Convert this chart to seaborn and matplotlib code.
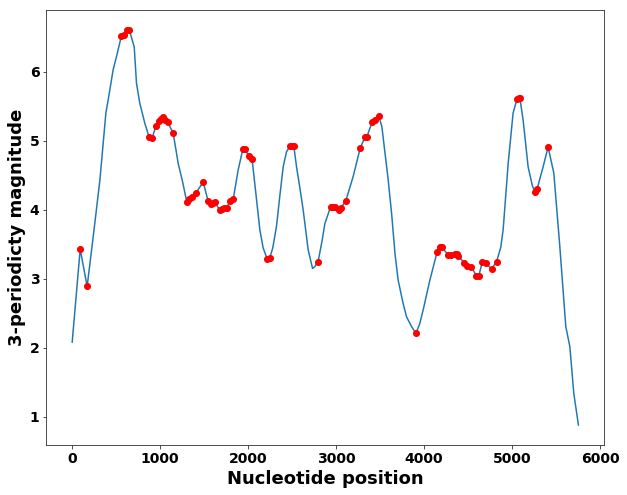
#!/usr/bin/env python3
"""
3-periodicity magnitude along the sequence, with flagged positions in red
"""
import numpy as np
import pandas as pd
import matplotlib
matplotlib.use("Agg")
import matplotlib.pyplot as plt
import seaborn as sns

# curve (nucleotide position, magnitude)
positions = [0, 91, 170, 239, 315, 383, 409, 466, 504, 560, 585, 625, 650,
             705, 731, 769, 826, 875, 909, 951, 985, 1010, 1034, 1060, 1084,
             1148, 1205, 1254, 1303, 1330, 1360, 1402, 1420, 1489, 1546,
             1576, 1600, 1622, 1675, 1700, 1730, 1755, 1792, 1830, 1887,
             1940, 1965, 2004, 2045, 2100, 2133, 2170, 2215, 2245, 2280,
             2322, 2360, 2398, 2436, 2474, 2500, 2519, 2550, 2590, 2625,
             2682, 2732, 2760, 2795, 2840, 2872, 2936, 2960, 2985, 3034,
             3050, 3110, 3193, 3273, 3330, 3350, 3409, 3440, 3485, 3520,
             3553, 3590, 3630, 3670, 3705, 3760, 3800, 3857, 3906, 3950,
             3989, 4065, 4148, 4175, 4198, 4273, 4300, 4350, 4375, 4390,
             4455, 4490, 4538, 4595, 4620, 4663, 4701, 4766, 4823, 4870,
             4898, 4955, 5011, 5057, 5075, 5088, 5125, 5182, 5230, 5258,
             5284, 5352, 5409, 5474, 5542, 5610, 5656, 5701, 5754]
magnitude = [2.08, 3.43, 2.89, 3.61, 4.43, 5.40, 5.59, 6.03, 6.22, 6.52, 6.53,
             6.61, 6.60, 6.36, 5.83, 5.54, 5.25, 5.05, 5.04, 5.21, 5.29, 5.32,
             5.35, 5.30, 5.27, 5.11, 4.67, 4.41, 4.11, 4.16, 4.18, 4.25, 4.27,
             4.40, 4.12, 4.09, 4.10, 4.11, 4.00, 4.01, 4.02, 4.02, 4.13, 4.15,
             4.58, 4.88, 4.88, 4.78, 4.73, 4.10, 3.71, 3.45, 3.29, 3.30, 3.45,
             3.76, 4.20, 4.62, 4.84, 4.92, 4.93, 4.92, 4.62, 4.30, 4.00, 3.42,
             3.15, 3.18, 3.25, 3.55, 3.80, 4.04, 4.04, 4.04, 3.99, 4.02, 4.13,
             4.48, 4.89, 5.06, 5.06, 5.27, 5.30, 5.36, 5.20, 4.85, 4.45, 3.95,
             3.35, 2.98, 2.65, 2.45, 2.31, 2.21, 2.35, 2.55, 2.98, 3.39, 3.46,
             3.46, 3.35, 3.34, 3.36, 3.36, 3.33, 3.23, 3.19, 3.17, 3.04, 3.04,
             3.25, 3.23, 3.14, 3.25, 3.45, 3.71, 4.67, 5.40, 5.61, 5.62, 5.62,
             5.30, 4.62, 4.35, 4.26, 4.30, 4.62, 4.91, 4.53, 3.47, 2.31, 2.02,
             1.34, 0.88]

# flagged positions (red dots)
dot_pos = [91, 170, 560, 585, 625, 650, 875, 909, 951, 985, 1010, 1034,
           1060, 1084, 1148, 1303, 1330, 1360, 1402, 1489, 1546, 1576, 1600,
           1622, 1675, 1700, 1730, 1755, 1792, 1830, 1940, 1965, 2004, 2045,
           2215, 2245, 2474, 2500, 2519, 2795, 2936, 2960, 2985, 3034, 3050,
           3110, 3273, 3330, 3350, 3409, 3440, 3485, 3906, 4148, 4175, 4198,
           4273, 4300, 4350, 4375, 4390, 4455, 4490, 4538, 4595, 4620, 4663,
           4701, 4766, 4823, 5057, 5075, 5088, 5258, 5284, 5409]
dot_mag = [3.43, 2.89, 6.52, 6.53, 6.61, 6.60, 5.05, 5.04, 5.21, 5.29, 5.32,
           5.35, 5.30, 5.27, 5.11, 4.11, 4.16, 4.18, 4.25, 4.40, 4.12, 4.09,
           4.10, 4.11, 4.00, 4.01, 4.02, 4.02, 4.13, 4.15, 4.88, 4.88, 4.78,
           4.73, 3.29, 3.30, 4.92, 4.93, 4.92, 3.25, 4.04, 4.04, 4.04, 3.99,
           4.02, 4.13, 4.89, 5.06, 5.06, 5.27, 5.30, 5.36, 2.21, 3.39, 3.46,
           3.46, 3.35, 3.34, 3.36, 3.36, 3.33, 3.23, 3.19, 3.17, 3.04, 3.04,
           3.25, 3.23, 3.14, 3.25, 5.61, 5.62, 5.62, 4.26, 4.30, 4.91]

sns.set_style("ticks")
plt.rcParams['font.family'] = ['DejaVu Sans']

curve = pd.DataFrame({'pos': positions, 'mag': magnitude})
dots = pd.DataFrame({'pos': dot_pos, 'mag': dot_mag})

fig, ax = plt.subplots(figsize=(627 / 72, 495 / 72), dpi=72)
fig.subplots_adjust(left=0.074, right=0.963, bottom=0.101, top=0.980)

sns.lineplot(data=curve, x='pos', y='mag', color='#1f77b4', lw=1.5,
             estimator=None, sort=False, ax=ax)
sns.scatterplot(data=dots, x='pos', y='mag', color='red', s=50,
                linewidth=0, zorder=3, ax=ax)

ax.set_xticks(range(0, 7000, 1000))
ax.set_yticks(range(1, 7))
ax.set_xlim(-293, 6042)
ax.set_ylim(0.594, 6.894)
for lab in ax.get_xticklabels() + ax.get_yticklabels():
    lab.set_fontweight('bold')
    lab.set_fontsize(14)
    lab.set_color('black')
ax.set_xlabel('Nucleotide position', fontsize=18, fontweight='bold', color='black')
ax.set_ylabel('3-periodicty magnitude', fontsize=18, fontweight='bold', color='black')

fig.savefig('out.png', dpi=72)
